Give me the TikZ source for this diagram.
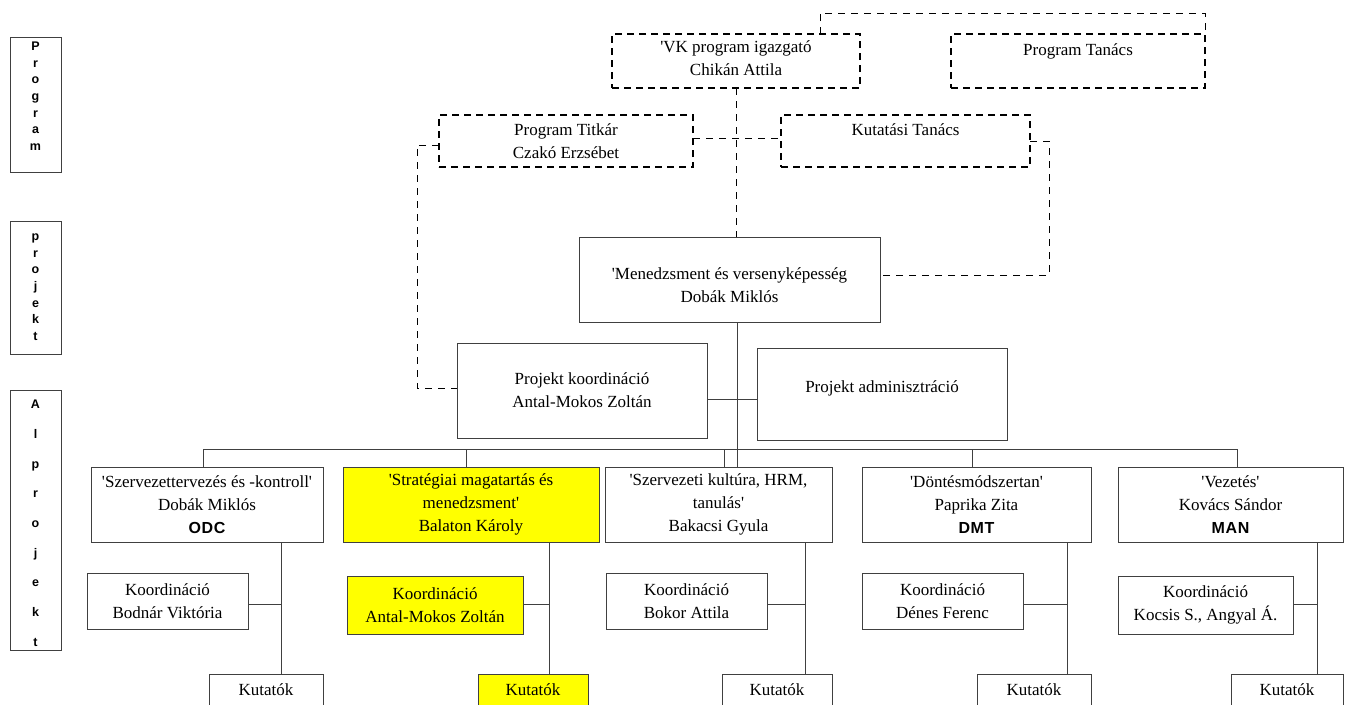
\documentclass[tikz,border=0pt]{standalone}
\usepackage{fontspec}
\defaultfontfeatures[\rmfamily,\sffamily]{}
\setmainfont{Liberation Serif}
\newfontfamily\arialf{Liberation Sans}
\definecolor{linec}{HTML}{404040}
\definecolor{yel}{rgb}{1,1,0}
\begin{document}
\begin{tikzpicture}[x=1pt,y=-1pt,
  every node/.style={font=\fontsize{17}{23}\selectfont, align=center, inner sep=0pt, outer sep=0pt},
  sbox/.style={draw=linec, line width=1pt, fill=white, rectangle},
  ybox/.style={sbox, fill=yel},
  dbox/.style={draw=black, line width=1.6pt, dash pattern=on 7pt off 5pt, rectangle},
  conn/.style={draw=linec, line width=1pt},
  dconn/.style={draw=black, line width=0.9pt, dash pattern=on 7pt off 6pt},
  lblbox/.style={draw=linec, line width=1pt, rectangle, minimum width=51},
  lbltxt/.style={font=\arialf\bfseries\fontsize{12.5}{16.6}\selectfont, anchor=north},
  boldcode/.style={}
]
\useasboundingbox (0,0) rectangle (1349,704);
\clip (0,0) rectangle (1349,704);

% ---- left level labels
\node[lblbox, minimum height=135] (lb1) at (35.5,104.5) {};
\node[lbltxt] (lt1) at (35.5,42) {P\\r\\o\\g\\r\\a\\m};
\node[lblbox, minimum height=133] (lb2) at (35.5,287.5) {};
\node[lbltxt] (lt2) at (35.5,234) {p\\r\\o\\j\\e\\k\\t};
\node[lblbox, minimum height=260] (lb3) at (35.5,520) {};
\node[lbltxt, font=\arialf\bfseries\fontsize{12.5}{29.7}\selectfont] (lt3) at (35.5,400) {A\\l\\p\\r\\o\\j\\e\\k\\t};

% ---- program level (dashed)
\node[dbox, minimum width=248, minimum height=54] (vk) at (736,61) {'VK program igazgató\\Chikán Attila\rule[-6pt]{0pt}{6pt}};
\node[dbox, minimum width=254, minimum height=54] (ptan) at (1078,61) {Program Tanács\\~};
\node[dbox, minimum width=254, minimum height=52] (titkar) at (566,141) {Program Titkár\\Czakó Erzsébet};
\node[dbox, minimum width=249, minimum height=52] (kutt) at (905.5,141) {Kutatási Tanács\\~};

% ---- project level
\node[sbox, minimum width=301, minimum height=85] (men) at (729.5,279.5) {\rule{0pt}{24pt}'Menedzsment és versenyképesség\\Dobák Miklós};
\node[sbox, minimum width=250, minimum height=95] (pk) at (582,390.5) {Projekt koordináció\\Antal-Mokos Zoltán};
\node[sbox, minimum width=250, minimum height=92] (pa) at (882,394.5) {Projekt adminisztráció\rule[-16pt]{0pt}{16pt}};

% ---- subprojects
\node[sbox, minimum width=232, minimum height=75] (odc) at (207,504.5) {'Szervezettervezés és -kontroll'\\Dobák Miklós\\{\arialf\bfseries\fontsize{16}{23}\selectfont\addfontfeature{LetterSpace=4}ODC}};
\node[ybox, minimum width=256, minimum height=75] (strat) at (471,504.5) {'Stratégiai magatartás és\\menedzsment'\\Balaton Károly};
\node[sbox, minimum width=227, minimum height=75] (szerv) at (718.5,504.5) {'Szervezeti kultúra, HRM,\\tanulás'\\Bakacsi Gyula};
\node[sbox, minimum width=229, minimum height=75] (dont) at (976.5,504.5) {'Döntésmódszertan'\\Paprika Zita\\{\arialf\bfseries\fontsize{16}{23}\selectfont\addfontfeature{LetterSpace=4}DMT}};
\node[sbox, minimum width=225, minimum height=75] (vez) at (1230.5,504.5) {'Vezetés'\\Kovács Sándor\\{\arialf\bfseries\fontsize{16}{23}\selectfont\addfontfeature{LetterSpace=4}MAN}};

% ---- coordination boxes
\node[sbox, minimum width=161, minimum height=56] (k1) at (167.5,601) {Koordináció\\Bodnár Viktória};
\node[ybox, minimum width=176, minimum height=58] (k2) at (435,605) {Koordináció\\Antal-Mokos Zoltán};
\node[sbox, minimum width=161, minimum height=56] (k3) at (686.5,601) {Koordináció\\Bokor Attila};
\node[sbox, minimum width=161, minimum height=56] (k4) at (942.5,601) {Koordináció\\Dénes Ferenc};
\node[sbox, minimum width=175, minimum height=58] (k5) at (1205.5,605) {Koordináció\\Kocsis S., Angyal Á.};

% ---- researchers
\node[sbox, minimum width=114, minimum height=36, anchor=north] (u1) at (266,674) {Kutatók\rule[-4pt]{0pt}{4pt}};
\node[ybox, minimum width=110, minimum height=36, anchor=north] (u2) at (533,674) {Kutatók\rule[-4pt]{0pt}{4pt}};
\node[sbox, minimum width=110, minimum height=36, anchor=north] (u3) at (777,674) {Kutatók\rule[-4pt]{0pt}{4pt}};
\node[sbox, minimum width=114, minimum height=36, anchor=north] (u4) at (1034,674) {Kutatók\rule[-4pt]{0pt}{4pt}};
\node[sbox, minimum width=112, minimum height=36, anchor=north] (u5) at (1287,674) {Kutatók\rule[-4pt]{0pt}{4pt}};

% ---- helper coordinates
\coordinate (mainx) at (737,0);
\coordinate (vkx) at (736,0);
\coordinate (topx) at (820,0);
\coordinate (topy) at (0,13);
\coordinate (tky) at (0,138);
\coordinate (lefty) at (0,145);
\coordinate (leftx) at (417,0);
\coordinate (lefty2) at (0,388);
\coordinate (righty) at (0,141);
\coordinate (rightx) at (1049,0);
\coordinate (righty2) at (0,275);
\coordinate (pky) at (0,399);
\coordinate (bus) at (0,449);
\coordinate (d1) at (203,0);
\coordinate (d2) at (466,0);
\coordinate (d3) at (724,0);
\coordinate (d4) at (972,0);
\coordinate (d5) at (1237,0);
\coordinate (v1) at (281,0);
\coordinate (v2) at (549,0);
\coordinate (v3) at (805,0);
\coordinate (v4) at (1067,0);
\coordinate (v5) at (1317,0);
\coordinate (hy) at (0,604);

% ---- dashed connectors
\draw[dconn] (vk.north -| topx) -- (topx |- topy) -- (ptan.north east |- topy) -- (ptan.north east);
\draw[dconn] (vk.south -| vkx) -- (men.north -| vkx);
\draw[dconn] (titkar.east |- tky) -- (kutt.west |- tky);
\draw[dconn] (titkar.west |- lefty) -- (leftx |- lefty) -- (leftx |- lefty2) -- (pk.west |- lefty2);
\draw[dconn] (kutt.east |- righty) -- (rightx |- righty) -- (rightx |- righty2) -- (men.east |- righty2);

% ---- solid connectors
\draw[conn] (men.south -| mainx) -- (szerv.north -| mainx);
\draw[conn] (pk.east |- pky) -- (pa.west |- pky);
\draw[conn] (d1 |- bus) -- (d5 |- bus);
\draw[conn] (d1 |- bus) -- (odc.north -| d1);
\draw[conn] (d2 |- bus) -- (strat.north -| d2);
\draw[conn] (d3 |- bus) -- (szerv.north -| d3);
\draw[conn] (d4 |- bus) -- (dont.north -| d4);
\draw[conn] (d5 |- bus) -- (vez.north -| d5);

\draw[conn] (odc.south -| v1) -- (u1.north -| v1);
\draw[conn] (k1.east |- hy) -- (v1 |- hy);
\draw[conn] (strat.south -| v2) -- (u2.north -| v2);
\draw[conn] (k2.east |- hy) -- (v2 |- hy);
\draw[conn] (szerv.south -| v3) -- (u3.north -| v3);
\draw[conn] (k3.east |- hy) -- (v3 |- hy);
\draw[conn] (dont.south -| v4) -- (u4.north -| v4);
\draw[conn] (k4.east |- hy) -- (v4 |- hy);
\draw[conn] (vez.south -| v5) -- (u5.north -| v5);
\draw[conn] (k5.east |- hy) -- (v5 |- hy);
\end{tikzpicture}
\end{document}
